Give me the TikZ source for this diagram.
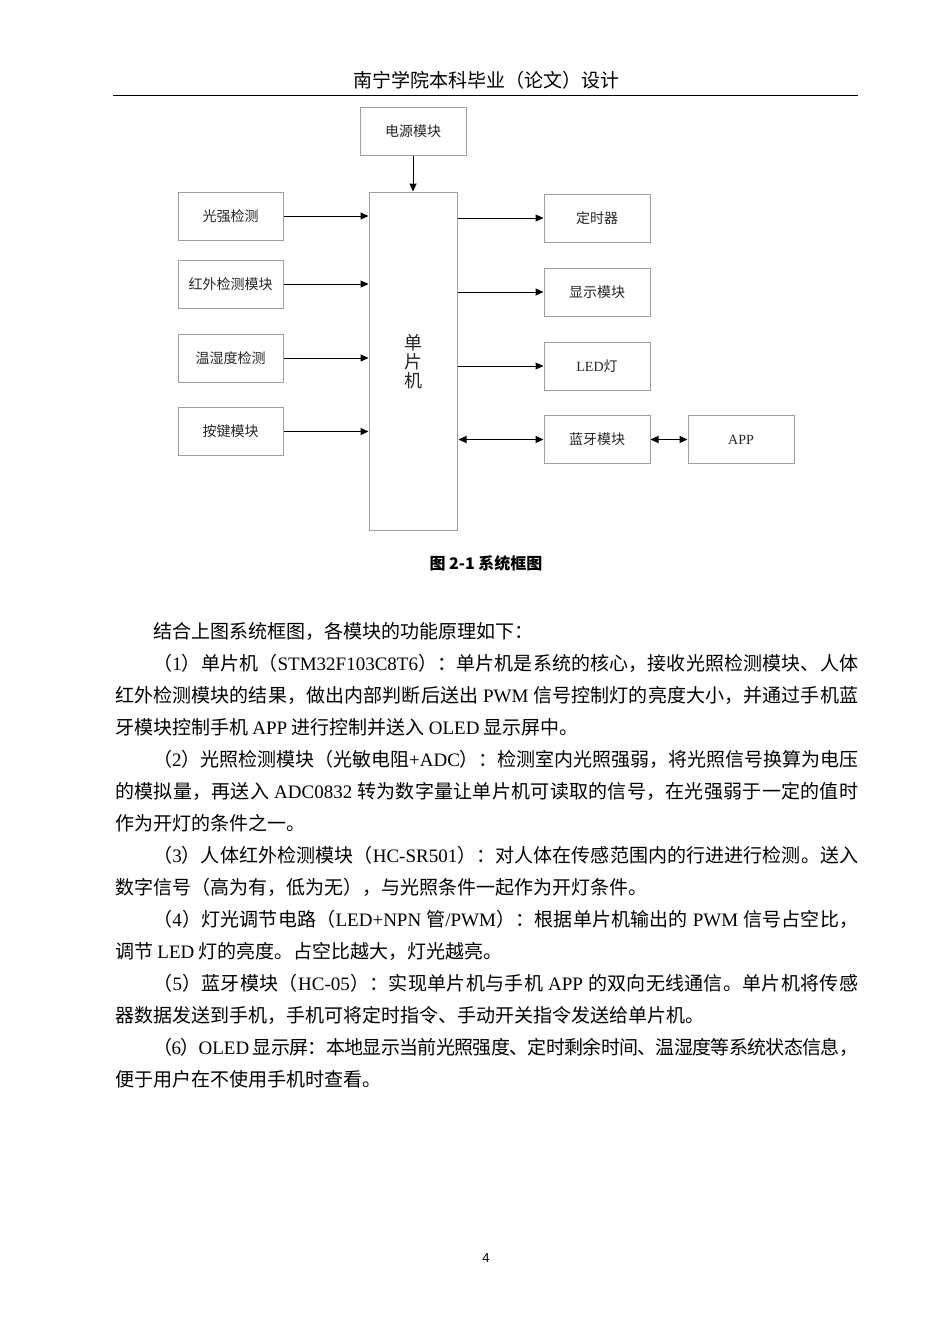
\documentclass[tikz,border=0pt]{standalone}
\usepackage{fontspec}
\setmainfont{Noto Sans CJK SC}
\newfontfamily\lat{Liberation Serif}
\newfontfamily\latsans{Liberation Sans}
\usetikzlibrary{arrows.meta}
\newcommand\ltn[1]{{\lat #1}}
\newcommand\bodyfont{\fontsize{19pt}{32pt}\selectfont}
\def\jsend{JSEND}
\def\jspread#1{\jsfirst#1\jsend}
\def\jsfirst#1{{#1}\jsaux}
\def\jsaux#1{\ifx\jsend#1\else\hskip 0pt plus 1fil minus 2pt{#1}\expandafter\jsaux\fi}
\begin{document}
\begin{tikzpicture}[x=1pt,y=-1pt,
  box/.style={draw=black!38, line width=1pt, minimum width=106pt, minimum height=48pt, inner sep=0pt, font=\fontsize{14pt}{16pt}\selectfont, text=black!85},
  arr/.style={line width=1pt, -{Triangle[length=8pt,width=7pt]}},
  darr/.style={line width=1pt, {Triangle[length=8pt,width=7pt]}-{Triangle[length=8pt,width=7pt]}},
  jl/.style={anchor=base west, inner sep=0pt, font=\bodyfont},
  pl/.style={anchor=base west, inner sep=0pt, font=\bodyfont}]
\fill[white] (0,0) rectangle (950,1344);
\useasboundingbox (0,0) rectangle (950,1344);

% header
\node[anchor=base, inner sep=0pt, font=\fontsize{19pt}{19pt}\selectfont] (hdr) at (486,87) {南宁学院本科毕业（论文）设计};
\coordinate (hl) at (113,95);
\coordinate (hr) at (858,95);
\draw[line width=0.8pt] (hl) -- (hr);

% diagram
\node[box] (pwr) at (413,131) {电源模块};
\node[box, minimum width=88pt, minimum height=338pt] (mcu) at (413,361) {};
\node[align=center, inner sep=0pt, font=\fontsize{18pt}{19pt}\selectfont, text=black!85] (mcut) at (413,362) {单\\片\\机};

\node[box, minimum width=105pt] (b1) at (230.5,216) {光强检测};
\node[box, minimum width=105pt] (b2) at (230.5,284) {红外检测模块};
\node[box, minimum width=105pt] (b3) at (230.5,358) {温湿度检测};
\node[box, minimum width=105pt] (b4) at (230.5,431.5) {按键模块};

\node[box] (r1) at (597,218) {定时器};
\node[box] (r2) at (597,292) {显示模块};
\node[box] (r3) at (597,366) {\ltn{LED}灯};
\node[box] (r4) at (597,439.5) {蓝牙模块};
\node[box] (app) at (741,439.5) {\ltn{APP}};

\draw[arr] (pwr.south) -- (mcu.north);
\foreach \b in {b1,b2,b3,b4} \draw[arr] (\b.east) -- (\b.east -| mcu.west);
\foreach \r in {r1,r2,r3} \draw[arr] (mcu.east |- \r.west) -- (\r.west);
\draw[darr] ([xshift=1pt]mcu.east |- r4.west) -- (r4.west);
\draw[darr] (r4.east) -- (app.west);

% caption
\node[anchor=base, inner sep=0pt, font=\fontsize{16pt}{16pt}\selectfont\bfseries] (cap) at (486,569) {图 2-1 系统框图};

% body text
\node[pl] (p0) at (153,638) {结合上图系统框图，各模块的功能原理如下：};

\node[jl] (p1a) at (153,670) {\hbox to 705pt{\jspread{（{\lat 1}）单片机（{\lat STM32F103C8T6}）：单片机是系统的核心，接收光照检测模块、人体}}};
\node[jl] (p1b) at (115,702) {\hbox to 743pt{\jspread{红外检测模块的结果，做出内部判断后送出{\lat\ PWM\ }信号控制灯的亮度大小，并通过手机蓝}}};
\node[pl] (p1c) at (115,734) {牙模块控制手机 \ltn{APP} 进行控制并送入 \ltn{OLED} 显示屏中。};

\node[jl] (p2a) at (153,766) {\hbox to 705pt{\jspread{（{\lat 2}）光照检测模块（光敏电阻{\lat +ADC}）：检测室内光照强弱，将光照信号换算为电压}}};
\node[jl] (p2b) at (115,798) {\hbox to 743pt{\jspread{的模拟量，再送入{\lat\ ADC0832\ }转为数字量让单片机可读取的信号，在光强弱于一定的值时}}};
\node[pl] (p2c) at (115,830) {作为开灯的条件之一。};

\node[jl] (p3a) at (153,862) {\hbox to 705pt{\jspread{（{\lat 3}）人体红外检测模块（{\lat HC-SR501}）：对人体在传感范围内的行进进行检测。送入}}};
\node[pl] (p3b) at (115,894) {数字信号（高为有，低为无），与光照条件一起作为开灯条件。};

\node[jl] (p4a) at (153,926) {\hbox to 705pt{\jspread{（{\lat 4}）灯光调节电路（{\lat LED+NPN\ }管{\lat /PWM}）：根据单片机输出的{\lat\ PWM\ }信号占空比，}}};
\node[pl] (p4b) at (115,958) {调节 \ltn{LED} 灯的亮度。占空比越大，灯光越亮。};

\node[jl] (p5a) at (153,990) {\hbox to 705pt{\jspread{（{\lat 5}）蓝牙模块（{\lat HC-05}）：实现单片机与手机{\lat\ APP\ }的双向无线通信。单片机将传感}}};
\node[pl] (p5b) at (115,1022) {器数据发送到手机，手机可将定时指令、手动开关指令发送给单片机。};

\node[jl] (p6a) at (153,1054) {\hbox to 705pt{\jspread{（{\lat 6}）{\lat OLED\ }显示屏：本地显示当前光照强度、定时剩余时间、温湿度等系统状态信息，}}};
\node[pl] (p6b) at (115,1086) {便于用户在不使用手机时查看。};

% page number
\node[anchor=base, inner sep=0pt, font=\fontsize{13pt}{13pt}\selectfont] (pg) at (486,1262) {{\latsans 4}};
\end{tikzpicture}
\end{document}
